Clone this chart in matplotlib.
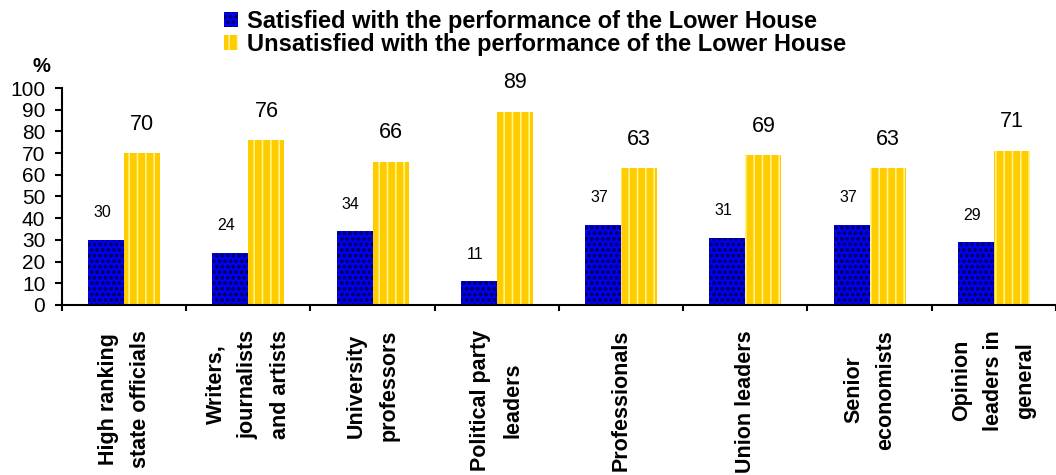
import matplotlib
matplotlib.use("Agg")
import matplotlib.pyplot as plt
from matplotlib.patches import Patch
import numpy as np

plt.rcParams["font.family"] = ["Liberation Sans", "DejaVu Sans"]
plt.rcParams["hatch.linewidth"] = 1.2

categories = [
    "High ranking\nstate officials",
    "Writers,\njournalists\nand artists",
    "University\nprofessors",
    "Political party\nleaders",
    "Professionals",
    "Union leaders",
    "Senior\neconomists",
    "Opinion\nleaders in\ngeneral",
]
satisfied = [30, 24, 34, 11, 37, 31, 37, 29]
unsatisfied = [70, 76, 66, 89, 63, 69, 63, 71]
series_names = [
    "Satisfied with the performance of the Lower House",
    "Unsatisfied with the performance of the Lower House",
]

fig = plt.figure(figsize=(10.56, 4.75), dpi=100)
ax = fig.add_axes([0.0587, 0.358, 0.9413, 0.4567])

x = np.arange(len(categories)) + 0.5
w = 0.29
b1 = ax.bar(x - w / 2, satisfied, w, color="#0000FF", edgecolor="#000070",
            hatch="ooo", linewidth=0)
b2 = ax.bar(x + w / 2, unsatisfied, w, color="#FFCC00", edgecolor="#FFF38A",
            hatch="||", linewidth=0)

for xi, v in zip(x - w / 2, satisfied):
    ax.text(xi - 0.03, v + 9, str(v), ha="center", va="bottom", fontsize=11.5)
for xi, v in zip(x + w / 2, unsatisfied):
    ax.text(xi, v + 8.5, str(v), ha="center", va="bottom", fontsize=15.5)

ax.set_xlim(0, 8)
ax.set_ylim(0, 100)
ax.set_yticks(range(0, 101, 10))
ax.tick_params(axis="y", labelsize=15, length=5, width=1.5, pad=7)
ax.set_xticks(range(0, 9), minor=True)
ax.set_xticks(x)
ax.set_xticklabels(categories, rotation=90, fontsize=15.5, fontweight="bold",
                   linespacing=1.7, multialignment="center")
ax.tick_params(axis="x", which="major", length=0, pad=18)
ax.tick_params(axis="x", which="minor", length=4, width=1.5)
for s in ["top", "right"]:
    ax.spines[s].set_visible(False)
for s in ["left", "bottom"]:
    ax.spines[s].set_linewidth(1.5)

fig.text(0.0390, 0.848, "%", fontsize=14.5, fontweight="bold", ha="center")

handles = [
    Patch(facecolor="#0000FF", edgecolor="#000070", hatch="ooo", linewidth=0),
    Patch(facecolor="#FFCC00", edgecolor="#FFF38A", hatch="||", linewidth=0),
]
fig.legend(handles, series_names, loc="upper left", bbox_to_anchor=(0.2030, 0.999),
           frameon=False, prop={"weight": "bold", "size": 17},
           handlelength=0.58, handleheight=0.58, handletextpad=0.4,
           labelspacing=0.0, borderaxespad=0)

fig.savefig("out.png", dpi=100)
